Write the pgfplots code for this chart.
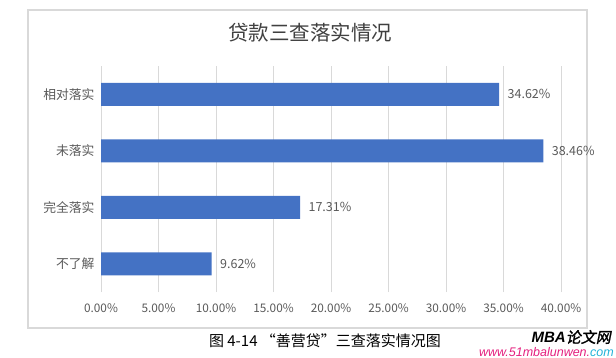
\documentclass[border=0pt]{standalone}
\usepackage{fontspec}
\setmainfont{Noto Sans CJK SC}
\newfontfamily\wmfont{Liberation Sans}
\newfontfamily\cjkb[FakeBold=1.5,FakeSlant=0.2]{Noto Sans CJK SC}
\usepackage{pgfplots}
\pgfplotsset{compat=1.18}
\definecolor{barblue}{HTML}{4472C4}
\definecolor{gridgray}{HTML}{D9D9D9}
\definecolor{txtgray}{HTML}{595959}
\definecolor{titlegray}{HTML}{404040}
\definecolor{wmpink}{HTML}{E4207E}
\definecolor{wmcyan}{HTML}{22B3D8}
\begin{document}
\begin{tikzpicture}
\path[use as bounding box] (0,0) rectangle (616bp,358bp);
\draw[gridgray, line width=1.2bp] (28bp,30bp) rectangle (587bp,348bp);
\begin{axis}[
  at={(101bp,66bp)}, anchor=south west,
  xbar, scale only axis, width=460bp, height=226bp,
  xmin=0, xmax=40, ymin=-0.5, ymax=3.5,
  ytick={0,1,2,3}, yticklabels={不了解,完全落实,未落实,相对落实},
  xtick={0,5,...,40},
  xticklabel={\pgfmathprintnumber[fixed,fixed zerofill,precision=2]{\tick}\%},
  /pgf/number format/assume math mode=true,
  bar width=23bp,
  axis line style={draw=none},
  major tick length=0pt,
  xmajorgrids, grid style={gridgray, line width=0.8bp},
  tick label style={font=\fontsize{11.8bp}{13bp}\selectfont, text=txtgray},
  yticklabel style={font=\fontsize{12.8bp}{14bp}\selectfont, xshift=-3bp},
  xticklabel style={yshift=-8bp},
  point meta=x,
  nodes near coords={\pgfmathprintnumber[fixed,fixed zerofill,precision=2]{\pgfplotspointmeta}\%},
  nodes near coords style={font=\fontsize{12.5bp}{14bp}\selectfont, text=txtgray, xshift=5bp},
]
\addplot[fill=barblue, draw=none] coordinates {(9.62,0) (17.31,1) (38.46,2) (34.62,3)};
\end{axis}
\node[font=\fontsize{20.5bp}{23bp}\selectfont, text=titlegray] at (310bp,325bp) {贷款三查落实情况};
\node[font=\fontsize{15bp}{17bp}\selectfont, text=black] at (325bp,17bp) {图 4-14 “善营贷”三查落实情况图};
\node[anchor=east, inner sep=0pt, font=\fontsize{15bp}{17bp}\selectfont] at (611bp,21bp) {{\wmfont\bfseries\itshape MBA}{\cjkb 论文网}};
\node[anchor=east, inner sep=0pt, font=\fontsize{12.5bp}{14bp}\selectfont] at (614bp,6bp) {\wmfont\itshape\textcolor{wmpink}{www.51mbalunwen.}\textcolor{wmcyan}{com}};
\end{tikzpicture}
\end{document}
